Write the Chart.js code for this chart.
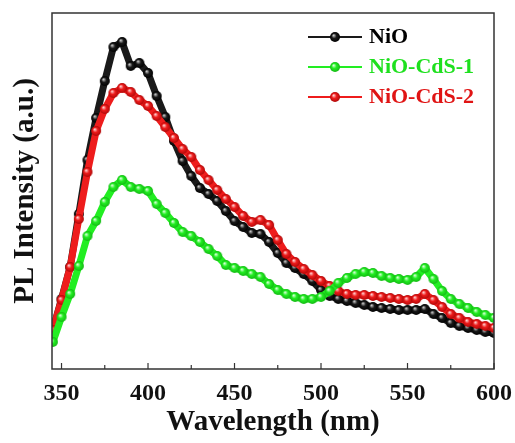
<!DOCTYPE html>
<html>
<head>
<meta charset="utf-8">
<script src="https://cdn.jsdelivr.net/npm/chart.js@4.4.1/dist/chart.umd.min.js"></script>
<style>
  html, body { margin: 0; padding: 0; background: #fff; }
</style>
</head>
<body>
<canvas id="plChart" width="515" height="443"></canvas>
<script>
// ---------- Data ----------
const wavelengths = [
  345, 350, 355, 360, 365, 370, 375, 380, 385, 390, 395, 400,
  405, 410, 415, 420, 425, 430, 435, 440, 445, 450, 455, 460, 465, 470, 475, 480, 485, 490, 495, 500,
  505, 510, 515, 520, 525, 530, 535, 540, 545, 550, 555, 560, 565, 570, 575, 580, 585, 590, 595, 600
];
const nioValues = [
  39, 70, 102, 155, 209, 251, 288, 322, 327, 303, 306, 296,
  273, 252, 228, 208, 193, 181, 175, 168, 158, 148, 142, 136, 135, 127, 116, 106, 101, 95, 88, 79,
  73, 70, 68, 66, 64, 62, 61, 60, 59, 59, 59, 60, 55, 51, 46, 43, 41, 39, 37, 36
];
const nioCds1Values = [
  27, 52, 75, 103, 133, 148, 167, 182, 189, 182, 180, 178,
  165, 156, 146, 137, 133, 127, 120, 113, 104, 101, 98, 95, 92, 85, 79, 75, 72, 70, 70, 72,
  78, 86, 91, 95, 97, 96, 93, 91, 90, 89, 92, 101, 90, 78, 70, 65, 61, 57, 54, 51
];
const nioCds2Values = [
  39, 69, 102, 150, 197, 238, 260, 276, 281, 277, 269, 263,
  253, 242, 231, 220, 212, 199, 189, 179, 170, 162, 153, 147, 149, 144, 129, 115, 107, 100, 94, 88,
  83, 78, 75, 74, 74, 73, 72, 71, 70, 69, 70, 75, 69, 62, 55, 51, 47, 45, 43, 41
];
const seriesNames = ["NiO", "NiO-CdS-1", "NiO-CdS-2"];
const xTickValues = [350, 400, 450, 500, 550, 600];

// ---------- Styles ----------
const FONT = "'Liberation Serif', 'Times New Roman', serif";
const beadColors = [
  { hi: "#c8c8c8", body: "#1a1a1a", edge: "#000000", text: "#000000" },
  { hi: "#d8ffd8", body: "#22ee22", edge: "#14b814", text: "#1ee01e" },
  { hi: "#ffd0d0", body: "#ee1c1c", edge: "#b00808", text: "#e01414" }
];

// shiny ball used as point marker
function makeBead(col, r) {
  const c = document.createElement("canvas");
  const size = r * 2 + 2;
  c.width = c.height = size;
  const g = c.getContext("2d");
  const m = size / 2;
  const grad = g.createRadialGradient(m - r * 0.3, m - r * 0.35, 0.3, m, m, r);
  grad.addColorStop(0, col.hi);
  grad.addColorStop(0.45, col.body);
  grad.addColorStop(1, col.edge);
  g.fillStyle = grad;
  g.beginPath();
  g.arc(m, m, r, 0, Math.PI * 2);
  g.fill();
  return c;
}

// line + ball for the legend
function makeLegendMark(col) {
  const c = document.createElement("canvas");
  c.width = 54; c.height = 14;
  const g = c.getContext("2d");
  g.strokeStyle = col.body;
  g.lineWidth = 2;
  g.beginPath();
  g.moveTo(0, 7); g.lineTo(54, 7);
  g.stroke();
  g.drawImage(makeBead(col, 5), 27 - 6, 7 - 6);
  return c;
}

const beads = beadColors.map(c => makeBead(c, 5));
const legendMarks = beadColors.map(c => makeLegendMark(c));

function toPoints(vals) {
  return wavelengths.map((w, i) => ({ x: w, y: vals[i] }));
}

// ---------- Plugins ----------
const frameAndTicks = {
  id: "frameAndTicks",
  afterDatasetsDraw(chart) {
    const { ctx, chartArea: a, scales: { x } } = chart;
    ctx.save();
    ctx.strokeStyle = "#333";
    ctx.lineWidth = 1.5;
    ctx.strokeRect(a.left, a.top, a.right - a.left, a.bottom - a.top);
    ctx.lineWidth = 1.2;
    for (let i = 0; i < xTickValues.length; i++) {
      const major = x.getPixelForValue(xTickValues[i]);
      ctx.beginPath();
      ctx.moveTo(major, a.bottom);
      ctx.lineTo(major, a.bottom - 6);
      ctx.stroke();
      if (i < xTickValues.length - 1) {
        const minor = x.getPixelForValue((xTickValues[i] + xTickValues[i + 1]) / 2);
        ctx.beginPath();
        ctx.moveTo(minor, a.bottom);
        ctx.lineTo(minor, a.bottom - 4);
        ctx.stroke();
      }
    }
    ctx.restore();
  }
};

// move the legend into the upper right of the plot
const placeLegend = {
  id: "placeLegend",
  afterLayout(chart) {
    const lg = chart.legend;
    if (!lg) return;
    const w = lg.width;
    lg.left = 304;
    lg.top = 18;
    lg.right = lg.left + w;
    lg.bottom = chart.chartArea.bottom;
  }
};

// ---------- Chart ----------
const datasets = [nioValues, nioCds1Values, nioCds2Values].map((vals, i) => ({
  label: seriesNames[i],
  data: toPoints(vals),
  borderColor: beadColors[i].body,
  borderWidth: 7,
  borderJoinStyle: "round",
  pointStyle: beads[i],
  pointRadius: 5,
  tension: 0,
  clip: 0,
  order: [2, 0, 1][i]
}));

new Chart(document.getElementById("plChart"), {
  type: "line",
  data: { datasets },
  plugins: [frameAndTicks, placeLegend],
  options: {
    responsive: false,
    animation: false,
    layout: { padding: { top: 13, right: 21, left: 0, bottom: 0 } },
    plugins: {
      tooltip: { enabled: false },
      legend: {
        position: "chartArea",
        align: "start",
        labels: {
          usePointStyle: true,
          pointStyleWidth: 46,
          padding: 8,
          font: { family: FONT, size: 22, weight: "bold" },
          generateLabels(chart) {
            return chart.data.datasets.map((ds, i) => ({
              text: ds.label,
              fontColor: beadColors[i].text,
              pointStyle: legendMarks[i],
              fillStyle: beadColors[i].body,
              strokeStyle: beadColors[i].body,
              lineWidth: 0,
              hidden: false,
              datasetIndex: i,
              textAlign: "left"
            }));
          }
        }
      }
    },
    scales: {
      x: {
        type: "linear",
        min: 344.5,
        max: 600,
        afterBuildTicks: s => { s.ticks = xTickValues.map(v => ({ value: v })); },
        afterFit: s => { s.height = 74; s.paddingLeft = 0; s.paddingRight = 0; },
        grid: { display: false, drawTicks: false },
        border: { display: false },
        ticks: {
          autoSkip: false,
          maxRotation: 0,
          padding: 10,
          color: "#111",
          font: { family: FONT, size: 24, weight: "bold" }
        },
        title: {
          display: true,
          text: "Wavelength (nm)",
          color: "#111",
          padding: { top: 0, bottom: 3 },
          font: { family: FONT, size: 29, weight: "bold" }
        }
      },
      y: {
        min: 0,
        max: 356,
        afterFit: s => { s.width = 52; },
        grid: { display: false, drawTicks: false },
        border: { display: false },
        ticks: { display: false },
        title: {
          display: true,
          text: "PL Intensity (a.u.)",
          color: "#111",
          padding: { top: 8, bottom: 0 },
          font: { family: FONT, size: 29, weight: "bold" }
        }
      }
    }
  }
});
</script>
</body>
</html>
